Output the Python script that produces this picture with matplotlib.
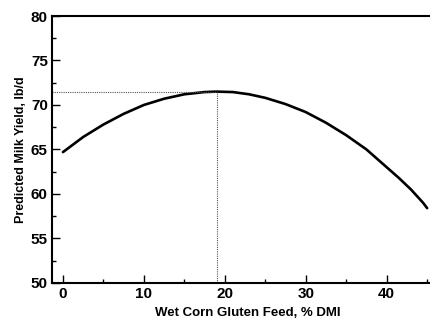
import matplotlib.pyplot as plt
from matplotlib.ticker import MultipleLocator

# Values
wcgf_pct = [0, 2.5, 5, 7.5, 10, 12.5, 15, 17.5, 19, 21, 23, 25, 27.5, 30, 32.5, 35, 37.5, 40, 41.5, 43, 44.5, 45]
milk_yield = [64.7, 66.4, 67.8, 69.0, 70.0, 70.7, 71.2, 71.45, 71.5, 71.45, 71.2, 70.8, 70.1, 69.2, 68.0, 66.6, 65.0, 63.0, 61.8, 60.5, 59.0, 58.4]

optimum_x = 19
optimum_y = 71.5

fig = plt.figure(figsize=(4.3, 3.2), dpi=100)
ax = fig.add_axes([0.121, 0.116, 0.91, 0.834])

ax.plot(wcgf_pct, milk_yield, color="black", linewidth=1.9, solid_capstyle="round")
ax.plot([-1.35, optimum_x], [optimum_y, optimum_y], color="#555555", linestyle=(0, (1, 1)), linewidth=0.8)
ax.plot([optimum_x, optimum_x], [50, optimum_y], color="#555555", linestyle=(0, (1, 1)), linewidth=0.8)

ax.set_xlim(-1.35, 47)
ax.set_ylim(50, 80)
ax.spines["right"].set_visible(False)
for side in ["left", "bottom", "top"]:
    ax.spines[side].set_linewidth(1.5)

ax.xaxis.set_major_locator(MultipleLocator(10))
ax.xaxis.set_minor_locator(MultipleLocator(5))
ax.yaxis.set_major_locator(MultipleLocator(5))
ax.yaxis.set_minor_locator(MultipleLocator(2.5))
ax.tick_params(which="both", direction="in", top=False, right=False, width=1)
ax.tick_params(which="major", length=6, labelsize=11, pad=3)
ax.tick_params(which="minor", length=3)
for lab in ax.get_xticklabels() + ax.get_yticklabels():
    lab.set_fontweight("bold")
    lab.set_family("Liberation Sans")

ax.set_xlabel("Wet Corn Gluten Feed, % DMI", fontsize=9.5, fontweight="bold", family="Liberation Sans", labelpad=4)
ax.set_ylabel("Predicted Milk Yield, lb/d", fontsize=9, fontweight="bold", family="Liberation Sans", labelpad=3)

fig.savefig("out.png", dpi=100)
